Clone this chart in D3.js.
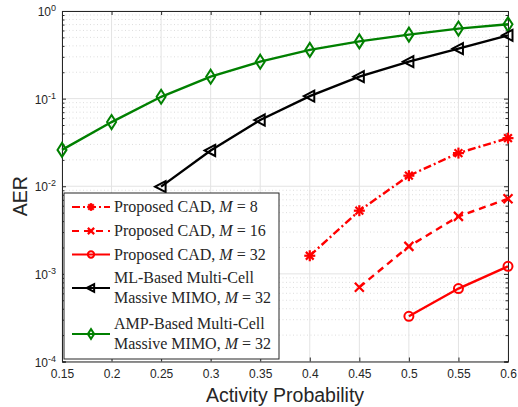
<!DOCTYPE html>
<html>
  <head>
    <meta charset="utf-8">
    <script src="https://cdn.jsdelivr.net/npm/d3@7"></script>
    <style type="text/css">
      body {
        margin: 0;
        padding: 0;
        background: #fff;
      }
      svg text {
        font-family: 'Liberation Sans', Arial, sans-serif;
      }
      .legend text {
        font-family: 'Liberation Serif', 'Times New Roman', serif;
        font-size: 16px;
      }
    </style>
  </head>
  <body>
    <svg id="chart" width="518" height="407"></svg>
    <script>
      /* data */
      const xTicks = [0.15, 0.2, 0.25, 0.3, 0.35, 0.4, 0.45, 0.5, 0.55, 0.6]
      const yTicks = [1e-4, 1e-3, 1e-2, 1e-1, 1]
      const yTickExp = ['-4', '-3', '-2', '-1', '0']

      const xAMP = [0.15, 0.2, 0.25, 0.3, 0.35, 0.4, 0.45, 0.5, 0.55, 0.6]
      const aerAMP = [0.026, 0.054, 0.105, 0.178, 0.264, 0.36, 0.45, 0.537, 0.63, 0.705]
      const xML = [0.25, 0.3, 0.35, 0.4, 0.45, 0.5, 0.55, 0.6]
      const aerML = [0.0099, 0.0256, 0.057, 0.107, 0.178, 0.264, 0.372, 0.528]
      const xM8 = [0.4, 0.45, 0.5, 0.55, 0.6]
      const aerM8 = [0.00161, 0.00526, 0.0132, 0.0239, 0.0354]
      const xM16 = [0.45, 0.5, 0.55, 0.6]
      const aerM16 = [0.000703, 0.00206, 0.00453, 0.0072]
      const xM32 = [0.5, 0.55, 0.6]
      const aerM32 = [0.000328, 0.00068, 0.00122]

      const series = [
        { xs: xM8, ys: aerM8, color: '#ff0000', dash: '8,3,2,3', marker: 'star', label: ['Proposed CAD, ', '8'] },
        { xs: xM16, ys: aerM16, color: '#ff0000', dash: '7,5', marker: 'cross', label: ['Proposed CAD, ', '16'] },
        { xs: xM32, ys: aerM32, color: '#ff0000', dash: null, marker: 'circle', label: ['Proposed CAD, ', '32'] },
        { xs: xML, ys: aerML, color: '#000000', dash: null, marker: 'tri', label: ['ML-Based Multi-Cell', 'Massive MIMO, ', '32'] },
        { xs: xAMP, ys: aerAMP, color: '#008000', dash: null, marker: 'diamond', label: ['AMP-Based Multi-Cell', 'Massive MIMO, ', '32'] }
      ]

      const pLeft = 62, pRight = 508, pTop = 11, pBottom = 361.5
      const svg = d3.select('#chart')

      const x = d3.scaleLinear().domain([0.15, 0.6]).range([pLeft, pRight])
      const y = d3.scaleLog().domain([1e-4, 1]).range([pBottom, pTop])

      /* grid */
      const grid = svg.append('g')
      const minor = []
      for (let e = -4; e < 0; e++) {
        for (let k = 2; k <= 9; k++) minor.push(k * Math.pow(10, e))
      }
      grid.selectAll('.minor').data(minor).join('line')
        .attr('x1', pLeft).attr('x2', pRight)
        .attr('y1', d => y(d)).attr('y2', d => y(d))
        .attr('stroke', '#d4d4d4').attr('stroke-width', 0.8)
        .attr('stroke-dasharray', '1,2.5')
      grid.selectAll('.majy').data(yTicks).join('line')
        .attr('x1', pLeft).attr('x2', pRight)
        .attr('y1', d => y(d)).attr('y2', d => y(d))
        .attr('stroke', '#e3e3e3').attr('stroke-width', 1)
      grid.selectAll('.majx').data(xTicks).join('line')
        .attr('x1', d => x(d)).attr('x2', d => x(d))
        .attr('y1', pTop).attr('y2', pBottom)
        .attr('stroke', '#e3e3e3').attr('stroke-width', 1)

      /* axes */
      const axB = svg.append('g').attr('transform', `translate(0,${pBottom})`)
        .call(d3.axisBottom(x).tickValues(xTicks).tickSize(-4).tickPadding(8).tickFormat(d => String(d)))
      const axT = svg.append('g').attr('transform', `translate(0,${pTop})`)
        .call(d3.axisTop(x).tickValues(xTicks).tickSize(-4).tickFormat(''))
      const axL = svg.append('g').attr('transform', `translate(${pLeft},0)`)
        .call(d3.axisLeft(y).tickValues(yTicks).tickSize(-4).tickPadding(8).tickFormat(''))
      const axR = svg.append('g').attr('transform', `translate(${pRight},0)`)
        .call(d3.axisRight(y).tickValues(yTicks).tickSize(-4).tickFormat(''))
      const axLm = svg.append('g').attr('transform', `translate(${pLeft},0)`)
        .call(d3.axisLeft(y).tickValues(minor).tickSize(-2.5).tickFormat(''))
      const axRm = svg.append('g').attr('transform', `translate(${pRight},0)`)
        .call(d3.axisRight(y).tickValues(minor).tickSize(-2.5).tickFormat(''))
      ;[axB, axT, axL, axR, axLm, axRm].forEach(g => {
        g.select('.domain').attr('stroke', '#262626')
        g.selectAll('.tick line').attr('stroke', '#262626')
      })
      axB.selectAll('text').attr('font-size', 12).attr('fill', '#262626')

      /* y labels with superscript */
      const yl = svg.append('g')
      yTicks.forEach((v, i) => {
        const t = yl.append('text')
          .attr('x', pLeft - 6).attr('y', y(v) + 5)
          .attr('text-anchor', 'end').attr('fill', '#262626').attr('font-size', 12)
        t.append('tspan').text('10')
        t.append('tspan').attr('dy', -5).attr('font-size', 9).text(yTickExp[i])
      })

      svg.append('text').attr('x', (pLeft + pRight) / 2).attr('y', 402)
        .attr('text-anchor', 'middle').attr('font-size', 19.5).attr('fill', '#262626')
        .text('Activity Probability')
      svg.append('text').attr('transform', `translate(27,${(pTop + pBottom) / 2 + 10}) rotate(-90)`)
        .attr('text-anchor', 'middle').attr('font-size', 19.5).attr('fill', '#262626')
        .text('AER')

      /* markers */
      const drawMarker = (g, kind, cx, cy, color, k = 1) => {
        if (kind === 'star') {
          const r = 5.5 * k
          ;[0, 45, 90, 135].forEach(a => {
            const rad = a * Math.PI / 180
            g.append('line')
              .attr('x1', cx - r * Math.cos(rad)).attr('y1', cy - r * Math.sin(rad))
              .attr('x2', cx + r * Math.cos(rad)).attr('y2', cy + r * Math.sin(rad))
              .attr('stroke', color).attr('stroke-width', 2.2)
          })
        } else if (kind === 'cross') {
          const r = 4.5 * k
          g.append('path').attr('d', `M${cx - r},${cy - r}L${cx + r},${cy + r}M${cx - r},${cy + r}L${cx + r},${cy - r}`)
            .attr('stroke', color).attr('stroke-width', 2.2).attr('fill', 'none')
        } else if (kind === 'circle') {
          g.append('circle').attr('cx', cx).attr('cy', cy).attr('r', 4.5 * k)
            .attr('stroke', color).attr('stroke-width', 2).attr('fill', 'none')
        } else if (kind === 'tri') {
          g.append('path').attr('d', `M${cx - 6 * k},${cy}L${cx + 4.5 * k},${cy - 5.5 * k}L${cx + 4.5 * k},${cy + 5.5 * k}Z`)
            .attr('stroke', color).attr('stroke-width', 2).attr('fill', 'none')
        } else if (kind === 'diamond') {
          g.append('path').attr('d', `M${cx},${cy - 7 * k}L${cx + 4.5 * k},${cy}L${cx},${cy + 7 * k}L${cx - 4.5 * k},${cy}Z`)
            .attr('stroke', color).attr('stroke-width', 2).attr('fill', 'none')
        }
      }

      const line = d3.line().x(d => x(d[0])).y(d => y(d[1]))
      const plot = svg.append('g')
      series.slice().reverse().forEach(s => {
        const pts = s.xs.map((v, i) => [v, s.ys[i]])
        plot.append('path').attr('d', line(pts))
          .attr('fill', 'none').attr('stroke', s.color).attr('stroke-width', 2.4)
          .attr('stroke-dasharray', s.dash)
        pts.forEach(p => drawMarker(plot, s.marker, x(p[0]), y(p[1]), s.color))
      })

      /* legend */
      const leg = svg.append('g').attr('class', 'legend')
      leg.append('rect').attr('x', 64).attr('y', 193).attr('width', 215).attr('height', 166)
        .attr('fill', '#fff').attr('stroke', '#262626').attr('stroke-width', 1)
      const rowY = [207, 231, 254.5, 288, 334]
      series.forEach((s, i) => {
        const cy = rowY[i]
        leg.append('line').attr('x1', 72).attr('x2', 110).attr('y1', cy).attr('y2', cy)
          .attr('stroke', s.color).attr('stroke-width', 2.2).attr('stroke-dasharray', s.dash)
        drawMarker(leg, s.marker, 91, cy, s.color, 0.7)
        const lines = s.label.length === 2 ? [[s.label[0], s.label[1]]] : [[s.label[0]], [s.label[1], s.label[2]]]
        lines.forEach((ln, j) => {
          const ty = cy + 5 + (lines.length === 2 ? (j === 0 ? -10 : 10) : 0)
          const t = leg.append('text').attr('x', 114).attr('y', ty).attr('fill', '#262626')
          t.append('tspan').text(ln[0])
          if (ln.length > 1) {
            t.append('tspan').attr('font-style', 'italic').text('M')
            t.append('tspan').text(' = ' + ln[1])
          }
        })
      })
    </script>
  </body>
</html>
